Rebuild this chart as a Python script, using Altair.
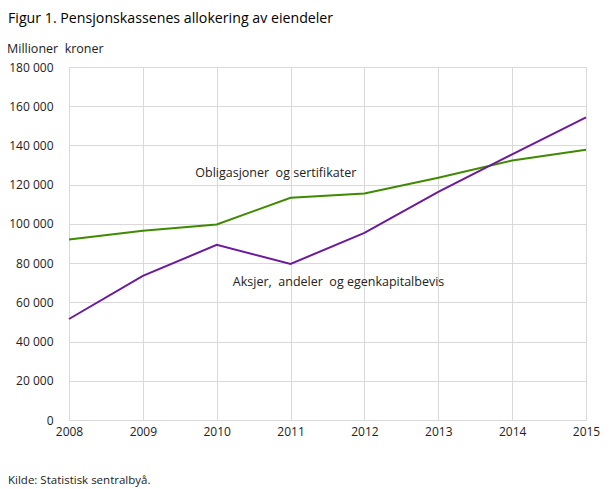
import altair as alt
import pandas as pd

years = [2008, 2009, 2010, 2011, 2012, 2013, 2014, 2015]
obligasjoner = [92000, 96500, 99700, 113300, 115500, 123500, 132300, 137800]
aksjer = [51500, 73500, 89300, 79600, 95400, 116300, 135500, 154300]
series_names = ["Obligasjoner og sertifikater", "Aksjer, andeler og egenkapitalbevis"]
colors = ["#3f8a00", "#6c1a9b"]

rows = []
for y, a, b in zip(years, obligasjoner, aksjer):
    rows.append({"year": y, "value": a, "series": series_names[0]})
    rows.append({"year": y, "value": b, "series": series_names[1]})
df = pd.DataFrame(rows)

label_df = pd.DataFrame({
    "year": [2010.8, 2011.65],
    "value": [126000, 70400],
    "text": ["Obligasjoner\u00a0 og sertifikater", "Aksjer,\u00a0 andeler\u00a0 og egenkapitalbevis"],
})

FONT = "Open Sans"

x = alt.X("year:Q", scale=alt.Scale(domain=[2008, 2015], nice=False, zero=False),
          axis=alt.Axis(values=years, format="d", title=None, grid=True,
                        gridColor="#d9d9d9", domain=False, ticks=False,
                        labelFont=FONT, labelFontSize=12, labelColor="#222222",
                        labelPadding=6, labelFlush=False, labelOverlap=False))
y = alt.Y("value:Q", scale=alt.Scale(domain=[0, 180000], nice=False),
          axis=alt.Axis(values=list(range(0, 180001, 20000)), format=",d", title=None,
                        grid=True, gridColor="#d9d9d9", domain=False, ticks=False,
                        labelFont=FONT, labelFontSize=12, labelColor="#222222",
                        labelPadding=16, labelOverlap=False,
                        labelExpr="replace(datum.label, ',', ' ')"))

lines = alt.Chart(df).mark_line(strokeWidth=2).encode(
    x=x, y=y,
    color=alt.Color("series:N", scale=alt.Scale(domain=series_names, range=colors), legend=None),
)

labels = alt.Chart(label_df).mark_text(font=FONT, fontSize=12.5, color="#222222", align="center").encode(
    x=x, y=y, text="text:N"
)

ytitle = alt.Chart(pd.DataFrame({"t": ["Millioner\u00a0 kroner"]})).mark_text(
    font=FONT, fontSize=12.5, color="#222222", align="left", baseline="middle"
).encode(x=alt.value(-62), y=alt.value(-18), text="t:N")

source = alt.Chart(pd.DataFrame({"t": ["Kilde: Statistisk sentralbyå."]})).mark_text(
    font=FONT, fontSize=11.5, color="#222222", align="left", baseline="middle"
).encode(x=alt.value(-61), y=alt.value(414), text="t:N")

chart = alt.layer(lines, labels, ytitle, source).properties(
    width=517, height=353,
    padding={"left": 61, "top": 59, "right": 15, "bottom": 75},
    autosize=alt.AutoSizeParams(type="none"),
    title=alt.TitleParams(
        "Figur 1. Pensjonskassenes allokering av eiendeler",
        anchor="start", frame="group", font="Open Sans", fontSize=14.2, fontWeight=500,
        color="#000000", dx=-61, dy=-17, offset=0,
    ),
).configure_view(stroke=None)

chart.save("out.html", embed_options={"renderer": "svg", "actions": False})
